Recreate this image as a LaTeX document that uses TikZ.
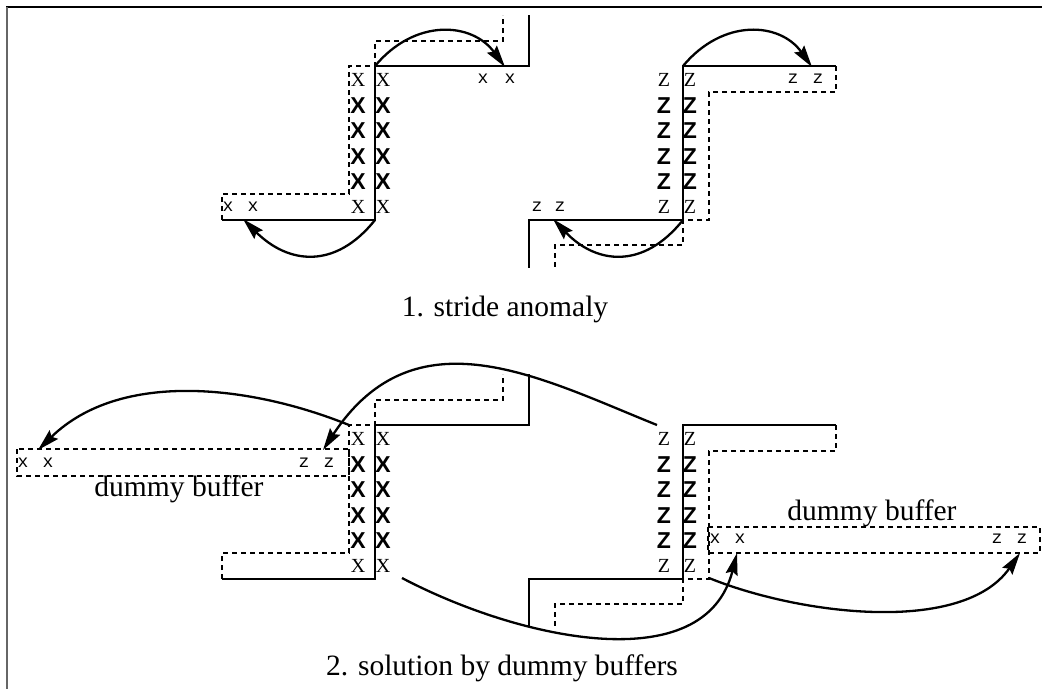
\documentclass[tikz,border=0pt]{standalone}
\usepackage{fontspec}
\setmainfont{Liberation Serif}
\setsansfont{Liberation Sans}
\setmonofont{Liberation Mono}
\usetikzlibrary{arrows.meta}

\tikzset{
  memline/.style={line width=2.3pt},
  padline/.style={line width=2.3pt,dash pattern=on 5pt off 4pt},
  hop/.style={line width=2.3pt,-{Stealth[length=22pt,width=12pt,inset=3pt]}},
  tcell/.style={inner sep=0pt,font=\fontsize{20}{20}\selectfont},
  bcell/.style={inner sep=0pt,font=\fontsize{23}{23}\selectfont\sffamily\bfseries},
  mcell/.style={inner sep=0pt,font=\fontsize{18}{18}\selectfont\ttfamily},
  caption/.style={inner sep=0pt,anchor=base,font=\fontsize{29.5}{34}\selectfont},
}

\begin{document}
\begin{tikzpicture}[x=1pt,y=-1pt]
\useasboundingbox (0,0) rectangle (1042,689);
% frame
\draw[line width=2pt] (6,7) -- (1042,7);
\draw[line width=2pt,black!60] (7,7) -- (7,689);

% the x array and the z array, same in both parts
\foreach \dy/\p in {0/a,359/b}{
  \draw[memline] (222,220+\dy) -- (375,220+\dy) -- (375,66+\dy) -- (529,66+\dy) -- (529,15+\dy);
  \draw[padline] (222,220+\dy) -- (222,194+\dy) -- (349,194+\dy) -- (349,66+\dy) -- (375,66+\dy) -- (375,41+\dy) -- (503,41+\dy) -- (503,15+\dy);
  \draw[memline] (836,66+\dy) -- (683,66+\dy) -- (683,220+\dy) -- (529,220+\dy) -- (529,268+\dy);
  \draw[padline] (836,66+\dy) -- (836,92+\dy) -- (709,92+\dy) -- (709,220+\dy) -- (683,220+\dy) -- (683,245+\dy) -- (555,245+\dy) -- (555,268+\dy);
  \coordinate (xtop\p) at (375,66+\dy);
  \coordinate (xbot\p) at (375,220+\dy);
  \coordinate (ztop\p) at (683,66+\dy);
  \coordinate (zbot\p) at (683,220+\dy);
  \foreach \i/\st in {0/tcell,1/bcell,2/bcell,3/bcell,4/bcell,5/tcell}{
    \node[\st] (xl\p\i) at (358,80+25.4*\i+\dy) {X};
    \node[\st] (xr\p\i) at (383,80+25.4*\i+\dy) {X};
    \node[\st] (zl\p\i) at (664,80+25.4*\i+\dy) {Z};
    \node[\st] (zr\p\i) at (690,80+25.4*\i+\dy) {Z};
  }
}

% 1. stride anomaly
\node[mcell] (xe1) at (483,79) {x};
\node[mcell] (xe2) at (510,79) {x};
\node[mcell] (xs1) at (228,207) {x};
\node[mcell] (xs2) at (253,207) {x};
\node[mcell] (ze1) at (793,79) {z};
\node[mcell] (ze2) at (818,79) {z};
\node[mcell] (zs1) at (537,207) {z};
\node[mcell] (zs2) at (560,207) {z};
\coordinate (t1) at (505,67);
\coordinate (t2) at (243,219);
\coordinate (t3) at (812,67);
\coordinate (t4) at (553,219);
\draw[hop] (xtopa) .. controls (415,18) and (472,22) .. (t1);
\draw[hop] (xbota) .. controls (335,270) and (288,264) .. (t2);
\draw[hop] (ztopa) .. controls (723,18) and (780,22) .. (t3);
\draw[hop] (zbota) .. controls (643,270) and (596,264) .. (t4);
\node[caption] (cap1) at (505,316) {1. stride anomaly};

% 2. solution by dummy buffers
\draw[padline] (17,449) rectangle (349,476);
\draw[padline] (708,527) rectangle (1040,553);
\node[caption] (dbl) at (179,496) {dummy buffer};
\node[caption] (dbr) at (872,520) {dummy buffer};
\node[mcell] (bx1) at (23,463) {x};
\node[mcell] (bx2) at (48,463) {x};
\node[mcell] (bz1) at (304,463) {z};
\node[mcell] (bz2) at (329,463) {z};
\node[mcell] (cx1) at (715,539) {x};
\node[mcell] (cx2) at (740,539) {x};
\node[mcell] (cz1) at (997,539) {z};
\node[mcell] (cz2) at (1022,539) {z};
\coordinate (s1) at (349,425);
\coordinate (s2) at (657,425);
\coordinate (s3) at (402,578);
\coordinate (s4) at (709,578);
\coordinate (u1) at (38,450);
\coordinate (u2) at (323,450);
\coordinate (u3) at (737,553);
\coordinate (u4) at (1020,553);
\draw[hop] (s1) .. controls (250,385) and (120,370) .. (u1);
\draw[hop] (s2) .. controls (540,378) and (415,310) .. (u2);
\draw[hop] (s3) .. controls (520,640) and (705,680) .. (u3);
\draw[hop] (s4) .. controls (800,615) and (963,635) .. (u4);
\node[caption] (cap2) at (502,675) {2. solution by dummy buffers};
\end{tikzpicture}
\end{document}
